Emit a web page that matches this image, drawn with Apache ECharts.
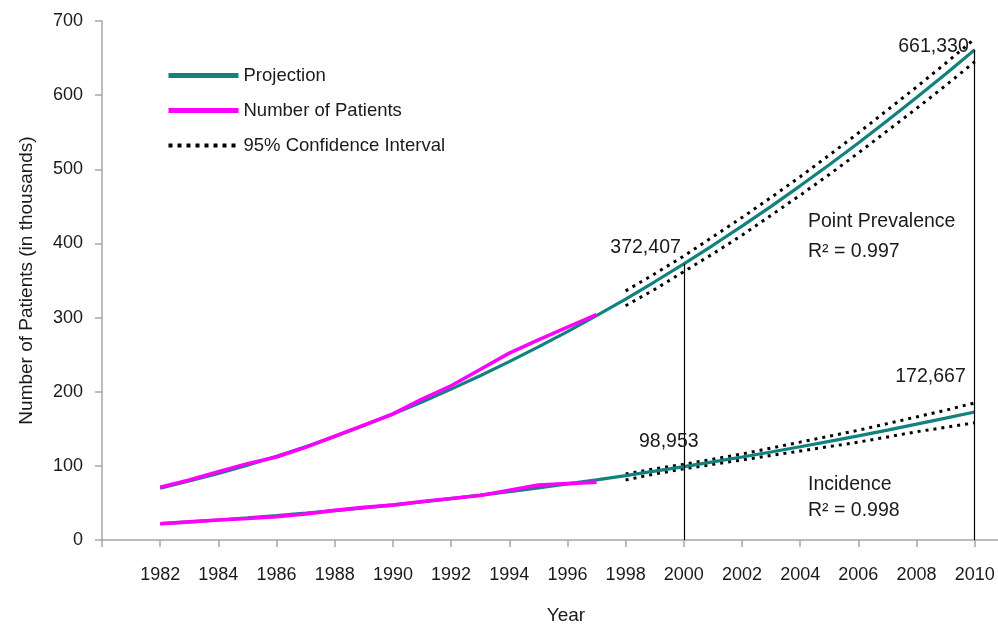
<!DOCTYPE html>
<html>
<head>
<meta charset="utf-8">
<script src="https://cdn.jsdelivr.net/npm/echarts@6/dist/echarts.min.js"></script>
<style>
  html, body { margin: 0; padding: 0; background: #fff; }
  #chart { width: 998px; height: 627px; }
</style>
</head>
<body>
<div id="chart"></div>
<script>
// Years covered by the regression projections
const projectionYears = [1982, 1983, 1984, 1985, 1986, 1987, 1988, 1989, 1990, 1991,
  1992, 1993, 1994, 1995, 1996, 1997, 1998, 1999, 2000, 2001, 2002, 2003, 2004, 2005,
  2006, 2007, 2008, 2009, 2010];
// Projected patients, thousands
const prevalenceProjection = [70, 79.5, 89.8, 101.0, 113.0, 125.9, 139.7, 154.4, 169.9, 186.2,
  203.5, 221.5, 240.6, 260.4, 281.0, 302.7, 325.0, 348.3, 372.407, 397.5, 423.3, 450.0, 477.7,
  506.1, 535.4, 565.7, 596.7, 628.6, 661.33];
const incidenceProjection = [22.0, 24.4, 27.0, 29.8, 32.9, 36.2, 39.7, 43.4, 47.4, 51.5,
  55.9, 60.5, 65.3, 70.4, 75.7, 81.1, 86.9, 92.8, 98.953, 105.3, 111.9, 118.7, 125.8,
  133.0, 140.5, 148.2, 156.2, 164.3, 172.667];

// Observed patient counts, thousands
const observedYears = [1982, 1983, 1984, 1985, 1986, 1987, 1988, 1989, 1990, 1991,
  1992, 1993, 1994, 1995, 1996, 1997];
const prevalenceObserved = [71, 81, 92, 103, 112, 125, 140, 155, 170, 190, 208, 230, 252, 270, 287, 304];
const incidenceObserved = [22, 24.5, 27, 29, 31.5, 35, 40, 44, 47, 52, 56, 60, 67, 74, 76, 78];

// 95% confidence bounds of the projections
const ciYears = [1998, 1999, 2000, 2001, 2002, 2003, 2004, 2005, 2006, 2007, 2008, 2009, 2010];
const prevalenceUpper = [336, 359, 383, 409, 435, 462, 490, 519, 549, 580, 611, 643, 676];
const prevalenceLower = [316, 338, 362, 386, 411, 438, 465, 493, 522, 552, 582, 613, 645];
const incidenceUpper = [89, 96, 102, 109, 116, 124, 132, 140, 148, 157, 166, 175, 185];
const incidenceLower = [81, 89, 96, 102, 108, 114, 120, 126, 132, 139, 146, 152, 158];

// Highlighted projection values
const highlightYears = [2000, 2010, 2000, 2010];
const highlightValues = [372.407, 661.33, 98.953, 172.667];

const FONT = "'Liberation Sans', Arial, sans-serif";
const FS = 18;        // axis text
const FS_NOTE = 19.5; // annotations
const TEXT = '#1a1a1a';
const TEAL = '#12817f';
const MAGENTA = '#ff00ff';
const AXIS = '#a6a6a6';

const pairs = (xs, ys) => xs.map((x, i) => [x, ys[i]]);

const ciStyle = { color: '#000', width: 3, type: [3, 5] };

function ciSeries(ys) {
  return {
    name: '95% Confidence Interval', type: 'line', data: pairs(ciYears, ys),
    showSymbol: false, symbol: 'none', lineStyle: ciStyle, itemStyle: { color: '#000' },
    z: 3, silent: true
  };
}

// Where each value label sits relative to its point
const labelOffsets = [
  { align: 'right', offset: [-3, -6] },
  { align: 'right', offset: [-6, 7] },
  { align: 'center', offset: [-15, -15] },
  { align: 'right', offset: [-9, -25] }
];

const noSymbol = { opacity: 0 };

const chart = echarts.init(document.getElementById('chart'), null, { renderer: 'canvas' });
chart.setOption({
  animation: false,
  backgroundColor: '#fff',
  textStyle: { fontFamily: FONT, color: TEXT },
  grid: { left: 102, top: 21, right: 0, height: 519, containLabel: false, outerBoundsMode: 'none' },
  legend: {
    left: 161, top: 61, orient: 'vertical',
    itemWidth: 70, itemHeight: 20, itemGap: 16,
    textStyle: { fontFamily: FONT, fontSize: 18.5, color: TEXT },
    data: [
      { name: 'Projection', lineStyle: { width: 5, color: TEAL }, itemStyle: noSymbol },
      { name: 'Number of Patients', lineStyle: { width: 5, color: MAGENTA }, itemStyle: noSymbol },
      { name: '95% Confidence Interval', lineStyle: { width: 4, color: '#000', type: [4, 5] }, itemStyle: noSymbol }
    ]
  },
  xAxis: {
    type: 'value', min: 1980, max: 2010.8, interval: 2,
    name: 'Year', nameLocation: 'middle', nameGap: 66,
    nameTextStyle: { fontFamily: FONT, fontSize: 19, color: TEXT, padding: [0, 0, 0, 32] },
    axisLine: { lineStyle: { color: AXIS, width: 1.5 } },
    axisTick: { length: 7, lineStyle: { color: AXIS, width: 1.5 } },
    axisLabel: {
      margin: 26, fontFamily: FONT, fontSize: FS, color: TEXT, showMaxLabel: false,
      formatter: v => (v >= 1982 && v <= 2010 && v % 2 === 0) ? String(v) : ''
    },
    splitLine: { show: false }
  },
  yAxis: {
    type: 'value', min: 0, max: 700, interval: 100,
    name: 'Number of Patients (in thousands)', nameLocation: 'middle', nameGap: 66,
    nameTextStyle: { fontFamily: FONT, fontSize: 19, color: TEXT },
    axisLine: { show: true, lineStyle: { color: AXIS, width: 1.5 } },
    axisTick: { show: true, length: 7, lineStyle: { color: AXIS, width: 1.5 } },
    axisLabel: { margin: 19, fontFamily: FONT, fontSize: FS, color: TEXT },
    splitLine: { show: false }
  },
  series: [
    ciSeries(prevalenceUpper),
    ciSeries(prevalenceLower),
    ciSeries(incidenceUpper),
    ciSeries(incidenceLower),
    {
      name: 'Projection', type: 'line', data: pairs(projectionYears, prevalenceProjection),
      showSymbol: false, symbol: 'none', lineStyle: { color: TEAL, width: 3.2 },
      itemStyle: { color: TEAL }, z: 4, silent: true,
      markLine: {
        silent: true, symbol: 'none', label: { show: false },
        lineStyle: { color: '#000', width: 1.2, type: 'solid' },
        data: [
          [{ coord: [highlightYears[0], 0] }, { coord: [highlightYears[0], highlightValues[0]] }],
          [{ coord: [highlightYears[1], 0] }, { coord: [highlightYears[1], highlightValues[1]] }]
        ]
      }
    },
    {
      name: 'Projection', type: 'line', data: pairs(projectionYears, incidenceProjection),
      showSymbol: false, symbol: 'none', lineStyle: { color: TEAL, width: 3.2 },
      itemStyle: { color: TEAL }, z: 4, silent: true
    },
    {
      name: 'Number of Patients', type: 'line', data: pairs(observedYears, prevalenceObserved),
      showSymbol: false, symbol: 'none', lineStyle: { color: MAGENTA, width: 3.6 },
      itemStyle: { color: MAGENTA }, z: 5, silent: true
    },
    {
      name: 'Number of Patients', type: 'line', data: pairs(observedYears, incidenceObserved),
      showSymbol: false, symbol: 'none', lineStyle: { color: MAGENTA, width: 3.6 },
      itemStyle: { color: MAGENTA }, z: 5, silent: true
    },
    {
      name: 'values', type: 'scatter', silent: true, symbolSize: 0.1,
      itemStyle: { color: TEXT, opacity: 1 }, z: 6,
      data: highlightYears.map((x, i) => ({
        value: [x, highlightValues[i]],
        label: Object.assign({
          show: true, position: 'top', distance: 0, verticalAlign: 'bottom',
          fontFamily: FONT, fontSize: FS_NOTE, color: TEXT, textBorderWidth: 0,
          formatter: p => Math.round(p.value[1] * 1000).toLocaleString('en-US')
        }, labelOffsets[i])
      }))
    }
  ],
  graphic: [
    { type: 'text', left: 808, top: 212, style: { text: 'Point Prevalence', font: FS_NOTE + 'px ' + FONT, fill: TEXT } },
    { type: 'text', left: 808, top: 242, style: { text: 'R² = 0.997', font: FS_NOTE + 'px ' + FONT, fill: TEXT } },
    { type: 'text', left: 808, top: 475, style: { text: 'Incidence', font: FS_NOTE + 'px ' + FONT, fill: TEXT } },
    { type: 'text', left: 808, top: 501, style: { text: 'R² = 0.998', font: FS_NOTE + 'px ' + FONT, fill: TEXT } }
  ]
});
</script>
</body>
</html>
